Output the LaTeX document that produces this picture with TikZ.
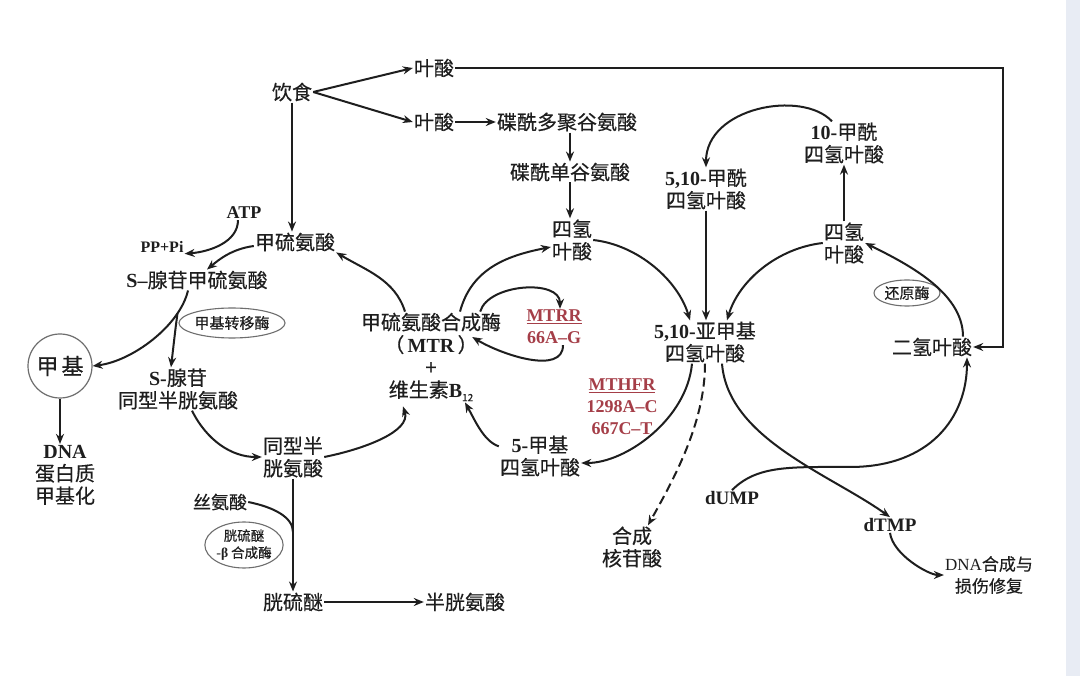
\documentclass[tikz,border=0pt]{standalone}
\usepackage{fontspec}
\setmainfont{Noto Sans CJK SC}[FakeBold=0.4]
\newfontfamily\ltfont{Liberation Serif}
\usetikzlibrary{arrows.meta,shapes.geometric,calc}
\definecolor{ink}{RGB}{30,30,30}
\definecolor{enz}{RGB}{165,62,72}
\definecolor{strip}{RGB}{232,236,244}
\definecolor{ellc}{RGB}{110,110,110}
\newcommand\latb[1]{{\ltfont\bfseries #1}}
\begin{document}
\begin{tikzpicture}[x=1pt,y=-1pt,
  t/.style={font=\fontsize{20}{22.5}\selectfont, inner sep=1pt, align=center, text=ink},
  tl/.style={font=\fontsize{18}{21}\selectfont\ltfont\bfseries, inner sep=1pt, align=center, text=ink},
  ts/.style={font=\fontsize{18}{22}\selectfont, inner sep=1pt, align=center, text=ink},
  rd/.style={font=\fontsize{18}{22}\selectfont\ltfont\bfseries, inner sep=1pt, align=center, text=enz},
  ell/.style={ellipse, draw=ellc, line width=1.1pt, inner sep=0pt, font=\fontsize{15}{17}\selectfont, align=center, text=ink},
  arr/.style={draw=ink, line width=2pt, -{Stealth[length=10pt,width=8pt]}},
  ln/.style={draw=ink, line width=2pt}]
\fill[white] (0,0) rectangle (1080,676);
\fill[strip] (1066,0) rectangle (1080,676);

% nodes
\node[t] (diet) at (292,92) {饮食};
\node[t] (fa1) at (434,68) {叶酸};
\node[t] (fa2) at (434,122) {叶酸};
\node[t] (ptpg) at (567,122) {碟酰多聚谷氨酸};
\node[t] (ptmg) at (570,172) {碟酰单谷氨酸};
\node[t] (thfa) at (572,240) {四氢\\叶酸};
\node[t] (met) at (295,242) {甲硫氨酸};
\node[tl] (atp) at (244,213) {ATP};
\node[tl,font=\fontsize{16}{19}\selectfont\ltfont\bfseries] (pppi) at (162,247) {PP+Pi};
\node[t] (sam) at (197,280) {\latb{S–}腺苷甲硫氨酸};
\node[ell, minimum width=104pt, minimum height=30pt] (mt) at (232,323) {甲基转移酶};
\node[circle, draw=ellc, line width=1.2pt, minimum size=64pt, inner sep=0pt, font=\fontsize{22}{24}\selectfont, text=ink] (me) at (60,366) {甲\hspace{3pt}基};
\node[t] (dna) at (65,475) {\latb{DNA}\\蛋白质\\甲基化};
\node[t] (sah) at (178,389) {\latb{S-}腺苷\\同型半胱氨酸};
\node[t] (hcy) at (293,457) {同型半\\胱氨酸};
\node[ts] (ser) at (220,502) {丝氨酸};
\node[ell, minimum width=76pt, minimum height=46pt, font=\fontsize{13.5}{17}\selectfont] (cbs) at (244,545) {胱硫醚\\-\latb{β} 合成酶};
\node[t] (cta) at (293,602) {胱硫醚};
\node[t] (cys) at (465,602) {半胱氨酸};
\node[t] (mtr) at (431,357) {甲硫氨酸合成酶\\（\,\latb{MTR}\,）\\+\\维生素\latb{B}\raisebox{-4pt}{\fontsize{10}{10}\selectfont 12}};
\node[rd] (mtrr) at (554,327) {\underline{MTRR}\\66A–G};
\node[rd] (mthfr) at (622,407) {\underline{MTHFR}\\1298A–C\\667C–T};
\node[t] (mthf) at (540,456) {\latb{5-}甲基\\四氢叶酸};
\node[t] (fthf) at (706,189) {\latb{5,10-}甲酰\\四氢叶酸};
\node[t] (mlthf) at (705,342) {\latb{5,10-}亚甲基\\四氢叶酸};
\node[t] (tfthf) at (844,143) {\latb{10-}甲酰\\四氢叶酸};
\node[t] (thfb) at (844,243) {四氢\\叶酸};
\node[ell, minimum width=66pt, minimum height=26pt] (redu) at (907,293) {还原酶};
\node[t] (dhf) at (932,347) {二氢叶酸};
\node[tl, font=\fontsize{19}{22}\selectfont\ltfont\bfseries] (dump) at (732,498) {dUMP};
\node[tl, font=\fontsize{19}{22}\selectfont\ltfont\bfseries] (dtmp) at (890,525) {dTMP};
\node[ts, font=\fontsize{17}{22}\selectfont] (dnas) at (989,575) {{\ltfont DNA}合成与\\损伤修复};
\node[t] (nuc) at (632,547) {合成\\核苷酸};

\coordinate (rc) at (1003,347);
\coordinate (sj) at (293,532);
\coordinate (bot) at (850,467);

% diet branch
\draw[arr] (diet.east) -- (fa1.west);
\draw[arr] (diet.east) -- (fa2.west);
\draw[arr] (diet.south) -- (diet.south |- met.north);
\draw[arr] (fa2.east) -- (ptpg.west);
\draw[arr] (ptmg.north |- ptpg.south) -- (ptmg.north);
\draw[arr] (ptmg.south) -- (ptmg.south |- thfa.north);
\draw[arr, line width=1.6pt] (fa1.east) -| (rc) -- (dhf.east);

% methionine cycle
\draw[arr] ([xshift=-6pt]atp.south) .. controls +(0,22) and +(25,-2) .. (pppi.south east);
\draw[arr] ([yshift=-4pt]met.west) .. controls +(-22,3) and +(12,-10) .. ([xshift=10pt]sam.north);
\draw[arr] ([xshift=-9pt]sam.south) .. controls +(-8,35) and +(40,-5) .. coordinate[pos=0.22] (br) (me.east);
\draw[arr] (br) .. controls +(-2,15) .. ([xshift=-7pt]sah.north);
\draw[arr] (me.south) -- (me.south |- dna.north);
\draw[arr] ([xshift=14pt]sah.south) .. controls +(15,30) and +(-30,0) .. (hcy.west);
\draw[arr] (hcy.east) .. controls +(40,-8) and +(8,25) .. ([xshift=-28pt,yshift=-4pt]mtr.south);
\draw[arr] ([xshift=-26pt]mtr.north) .. controls +(-10,-32) and +(30,18) .. (met.south east);
\draw[arr] ([xshift=29pt]mtr.north) .. controls +(12,-45) and +(-40,8) .. ([yshift=-7pt]thfa.west);
\draw[arr] ([xshift=-22pt]mtr.north east) .. controls +(8,-28) and +(0,-30) .. ([xshift=6pt]mtrr.north);
\draw[arr] ([xshift=9pt]mtrr.south) .. controls +(0,30) and +(30,18) .. ([xshift=-30pt,yshift=20pt]mtr.east);
\draw[arr] (hcy.south) -- (hcy.south |- cta.north);
\draw[ln] (ser.east) .. controls +(25,5) and +(0,-15) .. (sj);
\draw[arr] (cta.east) -- (cys.west);

% folate cycle
\draw[arr] (thfa.east) .. controls +(45,5) and +(-12,-40) .. ([xshift=-15pt]mlthf.north);
\draw[arr] (fthf.south) -- (fthf.south |- mlthf.north);
\draw[arr] (thfb.west) .. controls +(-45,5) and +(12,-40) .. ([xshift=22pt]mlthf.north);
\draw[arr] ([xshift=-12pt]tfthf.north) .. controls +(-30,-32) and +(0,-60) .. (fthf.north);
\draw[arr] (thfb.north) -- (thfb.north |- tfthf.south);
\draw[arr] ([xshift=31pt]dhf.north) .. controls +(0,-45) and +(40,20) .. (thfb.east);
\draw[arr] ([yshift=-12pt]mthf.north west) .. controls +(-15,-5) and +(10,18) .. ([xshift=34pt]mtr.south);
\draw[arr] ([xshift=-13pt]mlthf.south) .. controls +(-5,55) and +(45,0) .. ([yshift=-7pt]mthf.east);
\draw[arr, dashed, dash pattern=on 9pt off 5pt] (mlthf.south) .. controls +(0,60) and +(25,-45) .. ([xshift=16pt]nuc.north);
\draw[arr] ([xshift=17pt]mlthf.south) .. controls +(6,75) and +(-60,-43) .. (dtmp.north);
\draw[arr] (dump.north) .. controls +(25,-25) and +(-60,0) .. (bot) .. controls +(80,0) and +(0,60) .. ([xshift=35pt]dhf.south);
\draw[arr] (dtmp.south) .. controls +(3,22) and +(-15,0) .. (dnas.west);
\end{tikzpicture}
\end{document}
